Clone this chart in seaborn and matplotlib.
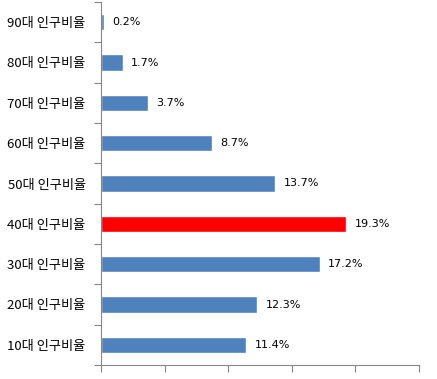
import matplotlib
matplotlib.use('Agg')
import matplotlib.pyplot as plt
import seaborn as sns
import pandas as pd
import numpy as np

sns.set_style('white')
plt.rcParams['font.family'] = ['Noto Sans CJK KR', 'DejaVu Sans']

# data, top to bottom
categories = ['90대 인구비율', '80대 인구비율', '70대 인구비율', '60대 인구비율',
              '50대 인구비율', '40대 인구비율', '30대 인구비율', '20대 인구비율',
              '10대 인구비율']
values = [0.2, 1.7, 3.7, 8.7, 13.7, 19.3, 17.2, 12.3, 11.4]
highlight = '40대 인구비율'

blue = '#4F81BD'
red = '#FF0000'
axis_gray = '#868686'

df = pd.DataFrame({'cat': categories, 'val': values})
palette = {c: (red if c == highlight else blue) for c in categories}

fig = plt.figure(figsize=(4.37, 3.79), dpi=100)
ax = fig.add_axes([101 / 437, 14 / 379, 318 / 437, 363 / 379])

sns.barplot(data=df, y='cat', x='val', hue='cat', palette=palette,
            order=categories, orient='h', width=0.41, saturation=1,
            legend=False, ax=ax)

for cont in ax.containers:
    ax.bar_label(cont, labels=[f'{v:.1f}%' for v in cont.datavalues],
                 padding=6, fontsize=8, color='black', family='DejaVu Sans')

ax.set_xlim(0, 25)
ax.set_ylim(len(categories) - 0.5, -0.5)
ax.set_xticks(np.arange(0, 26, 5))
ax.set_xticklabels([])
ax.set_xlabel('')
ax.set_ylabel('')

ax.set_yticks(np.arange(len(categories)))
ax.set_yticks(np.arange(len(categories) + 1) - 0.5, minor=True)
ax.tick_params(axis='y', which='major', length=0, pad=11, labelsize=9.5,
               labelcolor='black')
ax.tick_params(axis='y', which='minor', length=5, color=axis_gray, width=0.8, left=True)
ax.tick_params(axis='x', length=5, color=axis_gray, width=0.8, bottom=True)

for s in ['top', 'right']:
    ax.spines[s].set_visible(False)
for s in ['left', 'bottom']:
    ax.spines[s].set_color(axis_gray)
    ax.spines[s].set_linewidth(0.8)

fig.savefig('out.png', dpi=100, facecolor='white')
